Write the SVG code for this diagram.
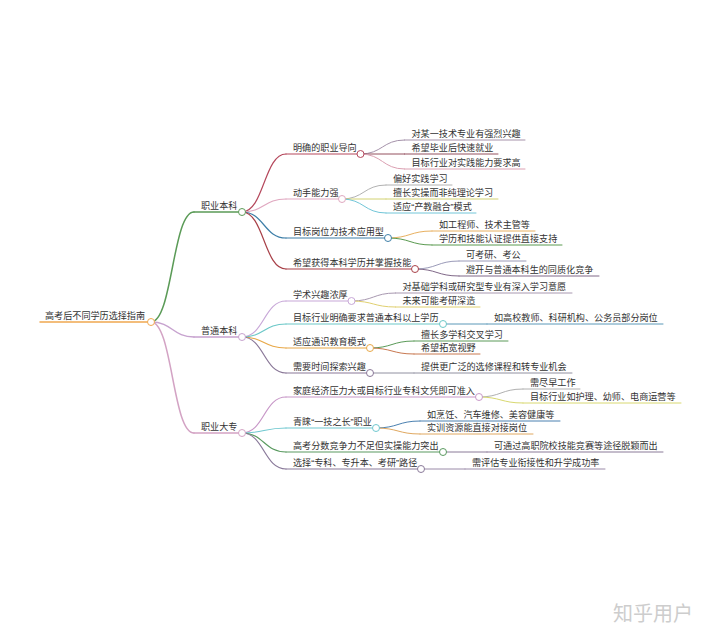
<svg xmlns="http://www.w3.org/2000/svg" width="720" height="643" viewBox="0 0 720 643">
<style>
.t{font-family:"Liberation Sans","Noto Sans CJK SC",sans-serif;font-size:9.1px;fill:#333}
.w{font-family:"Liberation Sans","Noto Sans CJK SC",sans-serif;font-size:20px;fill:#cdcdcd}
path{fill:none;stroke-linecap:round}
.l1{stroke-width:1.5}
.l2{stroke-width:1.2}
.l3{stroke-width:1}
circle{fill:#fff;stroke-width:1}
</style>
<rect width="720" height="643" fill="#fff"/>
<g id="connectors">
<path class="l1" stroke="#5b9b57" d="M151,322 C172.5,322 172.5,212 194,212"/>
<path class="l1" stroke="#c7a3cf" d="M151,322 C172.5,322 172.5,337 194,337"/>
<path class="l1" stroke="#d3a3c4" d="M151,322 C172.5,322 172.5,433 194,433"/>
<path class="l2" stroke="#b5485c" d="M242,212 C264,212 264,154 286,154"/>
<path class="l2" stroke="#e0a8c0" d="M242,212 C264,212 264,199 286,199"/>
<path class="l2" stroke="#3e7fa8" d="M242,212 C264,212 264,238 286,238"/>
<path class="l2" stroke="#a84048" d="M242,212 C264,212 264,269 286,269"/>
<path class="l3" stroke="#a592aa" d="M360.5,154 C382.5,154 382.5,140 404.5,140"/>
<path class="l3" stroke="#94505f" d="M360.5,154 L404.5,154"/>
<path class="l3" stroke="#dba0b2" d="M360.5,154 C382.5,154 382.5,169 404.5,169"/>
<path class="l3" stroke="#b2b2b2" d="M342,199 C364,199 364,185 386,185"/>
<path class="l3" stroke="#d2d272" d="M342,199 L386,199"/>
<path class="l3" stroke="#72c6d8" d="M342,199 C364,199 364,213 386,213"/>
<path class="l3" stroke="#e8b060" d="M388,238 C410,238 410,231 432,231"/>
<path class="l3" stroke="#5a9a50" d="M388,238 C410,238 410,245 432,245"/>
<path class="l3" stroke="#9a9ab8" d="M415,269 C437,269 437,261 459,261"/>
<path class="l3" stroke="#806888" d="M415,269 C437,269 437,276 459,276"/>
<path class="l2" stroke="#c8a8d8" d="M242,337 C264,337 264,301 286,301"/>
<path class="l2" stroke="#6cc8c8" d="M242,337 C264,337 264,324 286,324"/>
<path class="l2" stroke="#e8a848" d="M242,337 C264,337 264,348 286,348"/>
<path class="l2" stroke="#8a7898" d="M242,337 C264,337 264,373 286,373"/>
<path class="l3" stroke="#a898b0" d="M351.5,301 C373.5,301 373.5,293 395.5,293"/>
<path class="l3" stroke="#e0d070" d="M351.5,301 C373.5,301 373.5,307 395.5,307"/>
<path class="l3" stroke="#5a98b8" d="M443,324 L487,324"/>
<path class="l3" stroke="#5a9a58" d="M370,348 C392,348 392,341 414,341"/>
<path class="l3" stroke="#c87850" d="M370,348 C392,348 392,354 414,354"/>
<path class="l3" stroke="#9090a0" d="M370,373 L414,373"/>
<path class="l2" stroke="#c898c8" d="M242,433 C264,433 264,397 286,397"/>
<path class="l2" stroke="#70c8d0" d="M242,433 C264,433 264,428 286,428"/>
<path class="l2" stroke="#5a9a60" d="M242,433 C264,433 264,452 286,452"/>
<path class="l2" stroke="#8a7a9a" d="M242,433 C264,433 264,469 286,469"/>
<path class="l3" stroke="#b0b0b0" d="M479,397 C501,397 501,389 523,389"/>
<path class="l3" stroke="#d8d870" d="M479,397 C501,397 501,403 523,403"/>
<path class="l3" stroke="#4a80b0" d="M376,428 C398,428 398,421 420,421"/>
<path class="l3" stroke="#e0a860" d="M376,428 C398,428 398,434 420,434"/>
<path class="l3" stroke="#8a7a98" d="M443,452 L487,452"/>
<path class="l3" stroke="#9a8aa8" d="M421,469 L465,469"/>
</g>
<g id="root">
<path class="l1" stroke="#f0a850" d="M40,322 H151"/>
<circle cx="151" cy="322" r="3.5" stroke="#f0a850"/>
<text class="t" x="45" y="319">高考后不同学历选择指南</text>
</g>
<g id="n-zybk">
<path class="l1" stroke="#5b9b57" d="M194,212 H242"/>
<circle cx="242" cy="212" r="3.5" stroke="#5b9b57"/>
<text class="t" x="201" y="209">职业本科</text>
</g>
<g id="n-mqzy">
<path class="l2" stroke="#b5485c" d="M286,154 H360.5"/>
<circle cx="360.5" cy="154" r="3.5" stroke="#b5485c"/>
<text class="t" x="293" y="151">明确的职业导向</text>
</g>
<g id="n-mqzy-1"><path class="l3" stroke="#a592aa" d="M404.5,140 H525"/><text class="t" x="411.5" y="137">对某一技术专业有强烈兴趣</text></g>
<g id="n-mqzy-2"><path class="l3" stroke="#94505f" d="M404.5,154 H498"/><text class="t" x="411.5" y="151">希望毕业后快速就业</text></g>
<g id="n-mqzy-3"><path class="l3" stroke="#dba0b2" d="M404.5,169 H525"/><text class="t" x="411.5" y="166">目标行业对实践能力要求高</text></g>
<g id="n-dsnl">
<path class="l2" stroke="#e0a8c0" d="M286,199 H342"/>
<circle cx="342" cy="199" r="3.5" stroke="#e0a8c0"/>
<text class="t" x="293" y="196">动手能力强</text>
</g>
<g id="n-dsnl-1"><path class="l3" stroke="#b2b2b2" d="M386,185 H452"/><text class="t" x="393" y="182">偏好实践学习</text></g>
<g id="n-dsnl-2"><path class="l3" stroke="#d2d272" d="M386,199 H498"/><text class="t" x="393" y="196">擅长实操而非纯理论学习</text></g>
<g id="n-dsnl-3"><path class="l3" stroke="#72c6d8" d="M386,213 H476"/><text class="t" x="393" y="210">适应“产教融合”模式</text></g>
<g id="n-mbgw">
<path class="l2" stroke="#3e7fa8" d="M286,238 H388"/>
<circle cx="388" cy="238" r="3.5" stroke="#3e7fa8"/>
<text class="t" x="293" y="235">目标岗位为技术应用型</text>
</g>
<g id="n-mbgw-1"><path class="l3" stroke="#e8b060" d="M432,231 H535"/><text class="t" x="439" y="228">如工程师、技术主管等</text></g>
<g id="n-mbgw-2"><path class="l3" stroke="#5a9a50" d="M432,245 H562"/><text class="t" x="439" y="242">学历和技能认证提供直接支持</text></g>
<g id="n-xwhd">
<path class="l2" stroke="#a84048" d="M286,269 H415"/>
<circle cx="415" cy="269" r="3.5" stroke="#a84048"/>
<text class="t" x="293" y="266">希望获得本科学历并掌握技能</text>
</g>
<g id="n-xwhd-1"><path class="l3" stroke="#9a9ab8" d="M459,261 H526"/><text class="t" x="466" y="258">可考研、考公</text></g>
<g id="n-xwhd-2"><path class="l3" stroke="#806888" d="M459,276 H599"/><text class="t" x="466" y="273">避开与普通本科生的同质化竞争</text></g>
<g id="n-ptbk">
<path class="l1" stroke="#c7a3cf" d="M194,337 H242"/>
<circle cx="242" cy="337" r="3.5" stroke="#c7a3cf"/>
<text class="t" x="201" y="334">普通本科</text>
</g>
<g id="n-xsxq">
<path class="l2" stroke="#c8a8d8" d="M286,301 H351.5"/>
<circle cx="351.5" cy="301" r="3.5" stroke="#c8a8d8"/>
<text class="t" x="293" y="298">学术兴趣浓厚</text>
</g>
<g id="n-xsxq-1"><path class="l3" stroke="#a898b0" d="M395.5,293 H572"/><text class="t" x="402.5" y="290">对基础学科或研究型专业有深入学习意愿</text></g>
<g id="n-xsxq-2"><path class="l3" stroke="#e0d070" d="M395.5,307 H480"/><text class="t" x="402.5" y="304">未来可能考研深造</text></g>
<g id="n-mbhy">
<path class="l2" stroke="#6cc8c8" d="M286,324 H443"/>
<circle cx="443" cy="324" r="3.5" stroke="#6cc8c8"/>
<text class="t" x="293" y="321">目标行业明确要求普通本科以上学历</text>
</g>
<g id="n-mbhy-1"><path class="l3" stroke="#5a98b8" d="M487,324 H663"/><text class="t" x="494" y="321">如高校教师、科研机构、公务员部分岗位</text></g>
<g id="n-sytx">
<path class="l2" stroke="#e8a848" d="M286,348 H370"/>
<circle cx="370" cy="348" r="3.5" stroke="#e8a848"/>
<text class="t" x="293" y="345">适应通识教育模式</text>
</g>
<g id="n-sytx-1"><path class="l3" stroke="#5a9a58" d="M414,341 H508"/><text class="t" x="421" y="338">擅长多学科交叉学习</text></g>
<g id="n-sytx-2"><path class="l3" stroke="#c87850" d="M414,354 H480"/><text class="t" x="421" y="351">希望拓宽视野</text></g>
<g id="n-xysj">
<path class="l2" stroke="#8a7898" d="M286,373 H370"/>
<circle cx="370" cy="373" r="3.5" stroke="#8a7898"/>
<text class="t" x="293" y="370">需要时间探索兴趣</text>
</g>
<g id="n-xysj-1"><path class="l3" stroke="#9090a0" d="M414,373 H572"/><text class="t" x="421" y="370">提供更广泛的选修课程和转专业机会</text></g>
<g id="n-zydz">
<path class="l1" stroke="#d3a3c4" d="M194,433 H242"/>
<circle cx="242" cy="433" r="3.5" stroke="#d3a3c4"/>
<text class="t" x="201" y="430">职业大专</text>
</g>
<g id="n-jtjj">
<path class="l2" stroke="#c898c8" d="M286,397 H479"/>
<circle cx="479" cy="397" r="3.5" stroke="#c898c8"/>
<text class="t" x="293" y="394">家庭经济压力大或目标行业专科文凭即可准入</text>
</g>
<g id="n-jtjj-1"><path class="l3" stroke="#b0b0b0" d="M523,389 H580"/><text class="t" x="530" y="386">需尽早工作</text></g>
<g id="n-jtjj-2"><path class="l3" stroke="#d8d870" d="M523,403 H681"/><text class="t" x="530" y="400">目标行业如护理、幼师、电商运营等</text></g>
<g id="n-qlyj">
<path class="l2" stroke="#70c8d0" d="M286,428 H376"/>
<circle cx="376" cy="428" r="3.5" stroke="#70c8d0"/>
<text class="t" x="293" y="425">青睐“一技之长”职业</text>
</g>
<g id="n-qlyj-1"><path class="l3" stroke="#4a80b0" d="M420,421 H560"/><text class="t" x="427" y="418">如烹饪、汽车维修、美容健康等</text></g>
<g id="n-qlyj-2"><path class="l3" stroke="#e0a860" d="M420,434 H533"/><text class="t" x="427" y="431">实训资源能直接对接岗位</text></g>
<g id="n-gkfs">
<path class="l2" stroke="#5a9a60" d="M286,452 H443"/>
<circle cx="443" cy="452" r="3.5" stroke="#5a9a60"/>
<text class="t" x="293" y="449">高考分数竞争力不足但实操能力突出</text>
</g>
<g id="n-gkfs-1"><path class="l3" stroke="#8a7a98" d="M487,452 H663"/><text class="t" x="494" y="449">可通过高职院校技能竞赛等途径脱颖而出</text></g>
<g id="n-xzzk">
<path class="l2" stroke="#8a7a9a" d="M286,469 H421"/>
<circle cx="421" cy="469" r="3.5" stroke="#8a7a9a"/>
<text class="t" x="293" y="466">选择“专科、专升本、考研”路径</text>
</g>
<g id="n-xzzk-1"><path class="l3" stroke="#9a8aa8" d="M465,469 H605"/><text class="t" x="472" y="466">需评估专业衔接性和升学成功率</text></g>
<text class="w" x="613" y="621">知乎用户</text>
</svg>
